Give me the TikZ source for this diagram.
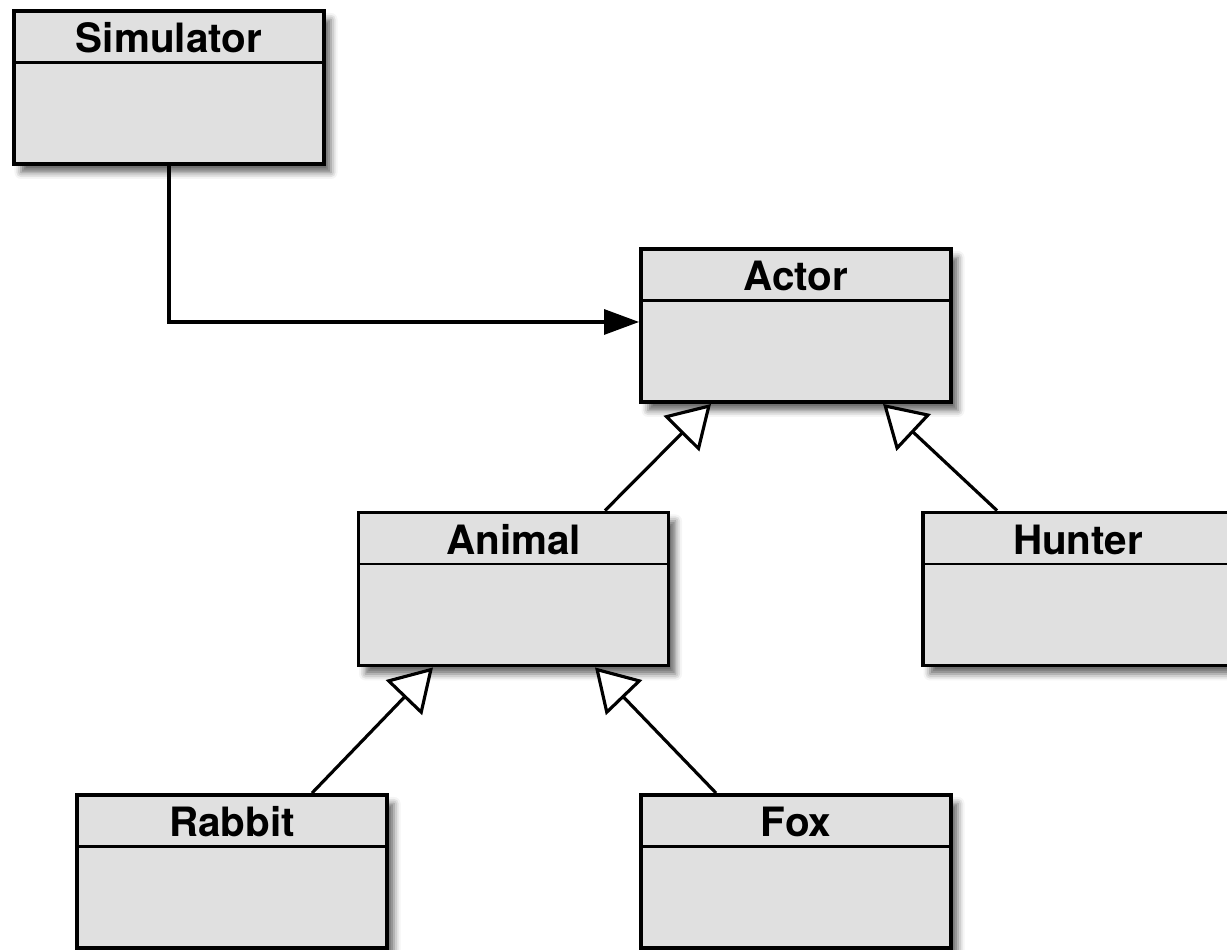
\documentclass[tikz,border=0pt]{standalone}
\usepackage{fontspec}
\setsansfont{TeX Gyre Heros}
\usetikzlibrary{arrows.meta,shadows.blur}

\tikzset{
  classbox/.style={draw=black, line width=2.2pt, fill=black!12,
    minimum width=6.2cm, minimum height=3.06cm, inner sep=0pt,
    blur shadow={shadow xshift=0.14cm, shadow yshift=-0.17cm, shadow blur radius=0.13cm, shadow opacity=60},
    path picture={\draw[line width=1.6pt]
      ([yshift=-1.03cm]path picture bounding box.north west) --
      ([yshift=-1.03cm]path picture bounding box.north east);}},
  classname/.style={font=\sffamily\bfseries\fontsize{23}{27}\selectfont, anchor=center},
  inherits/.style={line width=1.8pt, -{Triangle[open, length=0.84cm, width=1.0cm, fill=white]}},
  uses/.style={line width=1.8pt, -{Triangle[length=0.7cm, width=0.5cm]}}
}

\newcommand{\umlclass}[3]{%
  \node[classbox] (#1) at (#2) {};
  \node[classname] (#1-name) at ([yshift=-0.58cm]#1.north) {#3};
}

\begin{document}
\begin{tikzpicture}
  \useasboundingbox (0,0) rectangle (24.54,19);

  \umlclass{simulator}{3.38,17.25}{Simulator}
  \umlclass{actor}{15.92,12.49}{Actor}
  \umlclass{animal}{10.27,7.22}{Animal}
  \umlclass{hunter}{21.56,7.22}{Hunter}
  \umlclass{rabbit}{4.64,1.57}{Rabbit}
  \umlclass{fox}{15.92,1.57}{Fox}

  \draw[uses] (simulator.south) |- ([yshift=0.07cm]actor.west);

  \draw[inherits] ([xshift=1.83cm]animal.north) -- ([xshift=-1.7cm]actor.south);
  \draw[inherits] ([xshift=-1.62cm]hunter.north) -- ([xshift=1.74cm]actor.south);
  \draw[inherits] ([xshift=1.6cm]rabbit.north) -- ([xshift=-1.61cm]animal.south);
  \draw[inherits] ([xshift=-1.6cm]fox.north) -- ([xshift=1.63cm]animal.south);
\end{tikzpicture}
\end{document}
